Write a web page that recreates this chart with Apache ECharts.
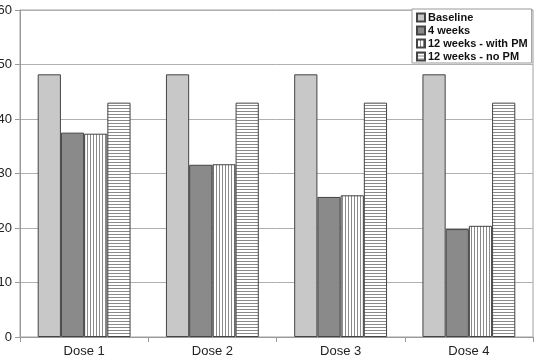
<!DOCTYPE html>
<html><head><meta charset="utf-8">
<script src="https://cdn.jsdelivr.net/npm/echarts@6/dist/echarts.min.js"></script>
<style>html,body{margin:0;padding:0;background:#fff}#c{width:536px;height:361px}</style>
</head><body><div id="c"></div>
<script>
const categories = ['Dose 1','Dose 2','Dose 3','Dose 4'];
const seriesNames = ['Baseline','4 weeks','12 weeks - with PM','12 weeks - no PM'];
const baseline = [48.2, 48.2, 48.2, 48.2];
const weeks4 = [37.5, 31.6, 25.7, 19.8];
const weeks12PM = [37.3, 31.7, 26.0, 20.4];
const weeks12NoPM = [43.0, 43.0, 43.0, 43.0];
const yTicks = [0, 10, 20, 30, 40, 50, 60];

function stripes(vertical){
  const c = document.createElement('canvas');
  c.width = 3; c.height = 3;
  const g = c.getContext('2d');
  g.fillStyle = '#ffffff'; g.fillRect(0,0,3,3);
  g.fillStyle = '#8a8a8a';
  if (vertical) g.fillRect(0,0,1,3); else g.fillRect(0,0,3,1);
  return {image: c, repeat: 'repeat'};
}
const colors = ['#c8c8c8', '#8a8a8a', stripes(true), stripes(false)];
const datas = [baseline, weeks4, weeks12PM, weeks12NoPM];

const chart = echarts.init(document.getElementById('c'), null, {renderer:'canvas'});
chart.setOption({
  animation: false,
  grid: {left: 20, right: 3, top: 10, bottom: 24, show: true, borderColor: '#a0a0a0', borderWidth: 1,
         containLabel: false, outerBoundsMode: 'none'},
  legend: {
    orient: 'vertical', left: 412, top: 9, padding: [3, 4, 1, 4],
    borderColor: '#999', borderWidth: 1, backgroundColor: '#fff',
    icon: 'rect', itemWidth: 8, itemHeight: 8, itemGap: 2,
    textStyle: {fontFamily: 'Liberation Sans', fontWeight: 'bold', fontSize: 11, color: '#111', padding: [0,0,0,-2]},
    data: seriesNames
  },
  xAxis: {
    type: 'category', data: categories,
    axisLine: {lineStyle: {color: '#999'}},
    axisTick: {show: true, length: 5, lineStyle: {color: '#999'}},
    axisLabel: {fontFamily: 'Liberation Sans', fontSize: 13, color: '#222', margin: 8}
  },
  yAxis: {
    type: 'value', min: yTicks[0], max: yTicks[yTicks.length-1], interval: 10,
    axisLine: {show: true, lineStyle: {color: '#999'}},
    axisTick: {show: true, length: 5, lineStyle: {color: '#999'}},
    splitLine: {lineStyle: {color: '#b0b0b0'}},
    axisLabel: {fontFamily: 'Liberation Sans', fontSize: 13, color: '#222', margin: 8}
  },
  series: seriesNames.map((n, i) => ({
    name: n, type: 'bar', data: datas[i],
    barGap: '0%', barCategoryGap: '27.6%',
    itemStyle: {color: colors[i], borderColor: '#444', borderWidth: 1}
  }))
});
</script></body></html>
